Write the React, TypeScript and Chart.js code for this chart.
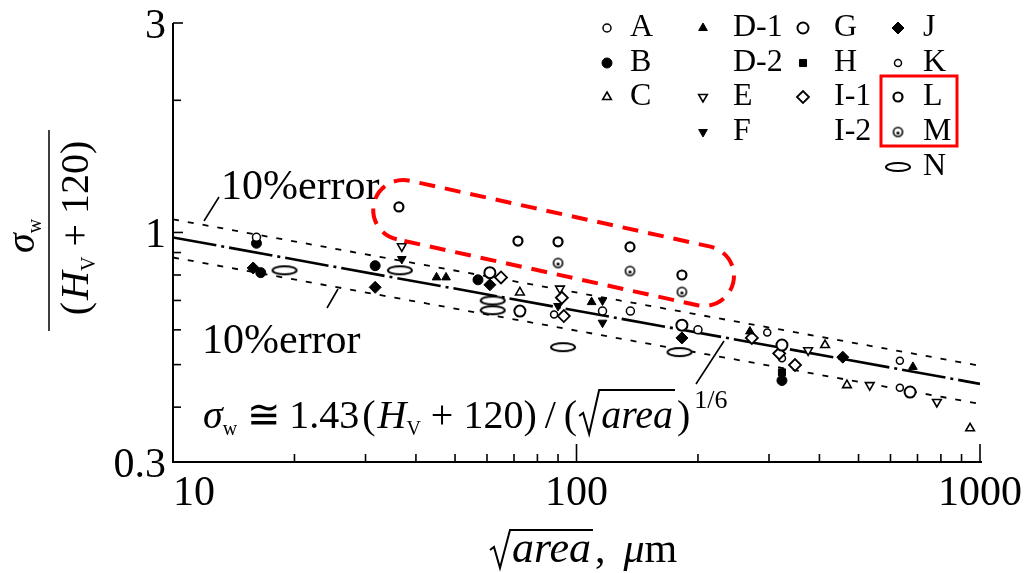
import { useEffect, useRef } from 'react';
import { Chart, registerables } from 'chart.js';
import { drawPoint } from 'chart.js/helpers';

Chart.register(...registerables);

const SERIF = '"Liberation Serif", "DejaVu Serif", serif';

// ---------- axis ticks ----------
const xTickValues = [10, 20, 30, 40, 50, 60, 70, 80, 90, 100, 200, 300, 400, 500, 600, 700, 800, 900, 1000];
const yTickValues = [0.3, 0.4, 0.5, 0.6, 0.7, 0.8, 0.9, 1, 2, 3];
const xTickLabels = [10, 100, 1000];
const yTickLabels = [0.3, 1, 3];

// ---------- fitted line and ±10 % band (end points) ----------
const lineX = [10, 1000];
const fitY = [0.974, 0.452];
const upperY = [1.071, 0.497];
const lowerY = [0.877, 0.407];

// ---------- measured points, sqrt(area) [µm] vs normalised strength ----------
const seriesA = [
  { x: 16.1, y: 0.975 }, { x: 116, y: 0.662 }, { x: 136, y: 0.662 }, { x: 200, y: 0.6 },
];
const seriesB = [
  { x: 16.1, y: 0.945 }, { x: 16.5, y: 0.81 }, { x: 31.7, y: 0.84 }, { x: 57, y: 0.78 }, { x: 323, y: 0.46 },
];
const seriesC = [
  { x: 72.4, y: 0.73 }, { x: 413, y: 0.554 }, { x: 468, y: 0.449 }, { x: 945, y: 0.358 },
];
const seriesD1 = [
  { x: 45, y: 0.79 }, { x: 47.5, y: 0.79 }, { x: 109, y: 0.694 }, { x: 269, y: 0.595 }, { x: 682, y: 0.494 },
];
const seriesE = [
  { x: 36.9, y: 0.93 }, { x: 91, y: 0.745 }, { x: 375, y: 0.539 }, { x: 533, y: 0.449 }, { x: 782, y: 0.411 },
];
const seriesF = [
  { x: 36.9, y: 0.87 }, { x: 90, y: 0.68 }, { x: 116, y: 0.7 }, { x: 116, y: 0.623 },
];
const seriesG = [
  { x: 61, y: 0.81 }, { x: 72.4, y: 0.662 }, { x: 182.5, y: 0.615 }, { x: 323, y: 0.554 }, { x: 671, y: 0.433 },
];
const seriesH = [{ x: 323, y: 0.48 }];
const seriesI1 = [
  { x: 65, y: 0.79 }, { x: 92, y: 0.71 }, { x: 93, y: 0.645 }, { x: 272, y: 0.575 }, { x: 318, y: 0.53 }, { x: 348, y: 0.499 },
];
const seriesJ = [
  { x: 15.8, y: 0.83 }, { x: 31.7, y: 0.75 }, { x: 61, y: 0.76 }, { x: 182.5, y: 0.575 }, { x: 457, y: 0.52 },
];
const seriesK = [
  { x: 88, y: 0.65 }, { x: 297, y: 0.592 }, { x: 323, y: 0.517 }, { x: 633, y: 0.51 }, { x: 633, y: 0.443 },
];
const seriesL = [
  { x: 36.3, y: 1.143 }, { x: 71.6, y: 0.956 }, { x: 90, y: 0.952 }, { x: 135.7, y: 0.927 }, { x: 182.5, y: 0.8 },
];
const seriesM = [
  { x: 90, y: 0.852 }, { x: 135.7, y: 0.817 }, { x: 182.5, y: 0.732 },
];
const seriesN = [
  { x: 18.9, y: 0.82 }, { x: 36.5, y: 0.82 }, { x: 62, y: 0.7 }, { x: 62, y: 0.665 }, { x: 92.6, y: 0.548 }, { x: 180, y: 0.534 },
];

// red highlight: the two cap centres of the dashed outline (data space)
const highlightCaps = [{ x: 37.2, y: 1.125 }, { x: 207, y: 0.796 }];

// ---------- marker images ----------
function makeEllipse(w: number, h: number) {
  const c = document.createElement('canvas');
  c.width = w + 4;
  c.height = h + 4;
  const g = c.getContext('2d')!;
  g.fillStyle = '#fff';
  g.strokeStyle = '#000';
  g.lineWidth = 2;
  g.beginPath();
  g.ellipse((w + 4) / 2, (h + 4) / 2, w / 2, h / 2, 0, 0, Math.PI * 2);
  g.fill();
  g.stroke();
  return c;
}
function makeDotCircle(r: number) {
  const s = r * 2 + 4;
  const c = document.createElement('canvas');
  c.width = s;
  c.height = s;
  const g = c.getContext('2d')!;
  g.fillStyle = '#fff';
  g.strokeStyle = '#000';
  g.lineWidth = 1.6;
  g.beginPath();
  g.arc(s / 2, s / 2, r, 0, Math.PI * 2);
  g.fill();
  g.stroke();
  g.fillStyle = '#000';
  g.beginPath();
  g.arc(s / 2, s / 2 + 1, 1.6, 0, Math.PI * 2);
  g.fill();
  return c;
}

type MS = { style: any; r: number; fill: boolean; rot?: number; bw?: number };

function buildStyles(): Record<string, MS> {
  return {
    A: { style: 'circle', r: 4, fill: false, bw: 1.5 },
    B: { style: 'circle', r: 5, fill: true },
    C: { style: 'triangle', r: 5, fill: false, bw: 1.6 },
    'D-1': { style: 'triangle', r: 5, fill: true },
    E: { style: 'triangle', r: 5, fill: false, rot: 180, bw: 1.6 },
    F: { style: 'triangle', r: 5, fill: true, rot: 180 },
    G: { style: 'circle', r: 5.5, fill: false, bw: 2 },
    H: { style: 'rect', r: 5, fill: true },
    'I-1': { style: 'rectRot', r: 6, fill: false, bw: 1.8 },
    J: { style: 'rectRot', r: 6, fill: true },
    K: { style: 'circle', r: 3.5, fill: false, bw: 1.5 },
    L: { style: 'circle', r: 4.5, fill: false, bw: 2.2 },
    M: { style: makeDotCircle(4.5), r: 5, fill: false },
    N: { style: makeEllipse(24, 8), r: 6, fill: false },
  };
}

const legendCols = [
  ['A', 'B', 'C'],
  ['D-1', 'D-2', 'E', 'F'],
  ['G', 'H', 'I-1', 'I-2'],
  ['J', 'K', 'L', 'M', 'N'],
];

type Piece = { t: string; f: string; dy?: number; gap?: number; radical?: boolean; rh?: number };

function runWidth(ctx: CanvasRenderingContext2D, pieces: Piece[]) {
  let w = 0;
  for (const p of pieces) {
    ctx.font = p.f;
    w += ctx.measureText(p.t).width + (p.gap || 0) + (p.radical ? 24 : 0);
  }
  return w;
}

function drawRun(ctx: CanvasRenderingContext2D, pieces: Piece[], x0: number, base: number, center = false) {
  let x = center ? x0 - runWidth(ctx, pieces) / 2 : x0;
  ctx.textAlign = 'left';
  ctx.textBaseline = 'alphabetic';
  for (const p of pieces) {
    ctx.font = p.f;
    const w = ctx.measureText(p.t).width;
    if (p.radical) {
      const h = p.rh || 34;
      ctx.save();
      ctx.lineWidth = 2;
      ctx.beginPath();
      ctx.moveTo(x, base - 12);
      ctx.lineTo(x + 4, base - 15);
      ctx.lineTo(x + 10, base + 6);
      ctx.lineTo(x + 20, base - h);
      ctx.lineTo(x + 24 + w, base - h);
      ctx.stroke();
      ctx.restore();
      x += 22;
    }
    ctx.fillText(p.t, x, base + (p.dy || 0));
    x += w + (p.gap || 0);
    if (p.radical) x += 2;
  }
}

export default function App() {
  const ref = useRef<HTMLCanvasElement>(null);

  useEffect(() => {
    const canvas = ref.current!;
    const st = buildStyles();
    const seriesMap: Record<string, { x: number; y: number }[]> = {
      A: seriesA, B: seriesB, C: seriesC, 'D-1': seriesD1, E: seriesE, F: seriesF, G: seriesG,
      H: seriesH, 'I-1': seriesI1, J: seriesJ, K: seriesK, L: seriesL, M: seriesM, N: seriesN,
    };

    const pointSets = Object.keys(seriesMap).map((k) => {
      const s = st[k];
      return {
        type: 'scatter' as const,
        label: k,
        data: seriesMap[k],
        pointStyle: s.style,
        pointRadius: s.r,
        pointRotation: s.rot || 0,
        pointBackgroundColor: s.fill ? '#000' : '#fff',
        pointBorderColor: '#000',
        pointBorderWidth: s.bw ?? 1,
        showLine: false,
        order: 0,
      };
    });

    const lineSet = (ys: number[], dash: number[], width: number) => ({
      type: 'scatter' as const,
      label: '',
      data: lineX.map((x, i) => ({ x, y: ys[i] })),
      showLine: true,
      borderColor: '#000',
      borderWidth: width,
      borderDash: dash,
      pointRadius: 0,
      order: 10,
    });

    const decor = {
      id: 'decor',
      beforeDatasetsDraw(chart: any) {
        const { ctx, chartArea, scales } = chart;
        const { left, right, top, bottom } = chartArea;
        const x = scales.x;
        const y = scales.y;
        ctx.save();
        ctx.strokeStyle = '#000';
        ctx.lineWidth = 2;
        ctx.beginPath();
        ctx.moveTo(left, top);
        ctx.lineTo(left, bottom);
        ctx.lineTo(right + 2, bottom);
        ctx.stroke();
        ctx.lineWidth = 1.6;
        for (const v of xTickValues) {
          const px = x.getPixelForValue(v);
          const len = xTickLabels.includes(v) ? 18 : 8;
          ctx.beginPath();
          ctx.moveTo(px, bottom);
          ctx.lineTo(px, bottom - len);
          ctx.stroke();
        }
        for (const v of yTickValues) {
          const py = y.getPixelForValue(v);
          const len = yTickLabels.includes(v) ? 10 : 8;
          ctx.beginPath();
          ctx.moveTo(left, py);
          ctx.lineTo(left + len, py);
          ctx.stroke();
        }
        ctx.restore();
      },
      afterDraw(chart: any) {
        const { ctx, chartArea, scales } = chart;
        const { left, bottom } = chartArea;
        const x = scales.x;
        const y = scales.y;
        ctx.save();
        ctx.fillStyle = '#000';
        ctx.strokeStyle = '#000';

        // tick labels
        ctx.font = `42px ${SERIF}`;
        ctx.textBaseline = 'alphabetic';
        ctx.textAlign = 'right';
        for (const v of yTickLabels) {
          ctx.fillText(String(v), left - 7, y.getPixelForValue(v) + 15);
        }
        for (const v of xTickLabels) {
          const px = x.getPixelForValue(v);
          if (v === xTickLabels[0]) {
            ctx.textAlign = 'left';
            ctx.fillText(String(v), px, bottom + 43);
          } else {
            ctx.textAlign = 'center';
            ctx.fillText(String(v), px, bottom + 43);
          }
        }

        // x title
        drawRun(ctx, [
          { t: 'area', f: `italic 44px ${SERIF}`, radical: true, rh: 32, gap: 2 },
          { t: ',', f: `42px ${SERIF}`, gap: 18 },
          { t: 'μ', f: `italic 42px ${SERIF}` },
          { t: 'm', f: `42px ${SERIF}` },
        ], 490, 562);

        // y title (fraction, rotated)
        ctx.save();
        ctx.translate(0, 230);
        ctx.rotate(-Math.PI / 2);
        drawRun(ctx, [
          { t: 'σ', f: `italic 40px ${SERIF}` },
          { t: 'w', f: `20px ${SERIF}`, dy: 7 },
        ], -6, 34, true);
        drawRun(ctx, [
          { t: '(', f: `40px ${SERIF}`, gap: 2 },
          { t: 'H', f: `italic 40px ${SERIF}` },
          { t: 'V', f: `20px ${SERIF}`, dy: 7, gap: 10 },
          { t: '+', f: `40px ${SERIF}`, gap: 10 },
          { t: '120', f: `40px ${SERIF}` },
          { t: ')', f: `40px ${SERIF}` },
        ], 2, 88, true);
        ctx.restore();
        ctx.lineWidth = 1.5;
        ctx.beginPath();
        ctx.moveTo(49, 130);
        ctx.lineTo(49, 331);
        ctx.stroke();

        // band labels and formula
        ctx.font = `42px ${SERIF}`;
        ctx.textAlign = 'left';
        ctx.fillText('10%error', 221, 199);
        ctx.fillText('10%error', 202, 353);
        drawRun(ctx, [
          { t: 'σ', f: `italic 40px ${SERIF}` },
          { t: 'w', f: `20px ${SERIF}`, dy: 7, gap: 10 },
          { t: '≅', f: `40px ${SERIF}`, gap: 8 },
          { t: '1.43', f: `40px ${SERIF}`, gap: 3 },
          { t: '(', f: `40px ${SERIF}`, gap: 2 },
          { t: 'H', f: `italic 40px ${SERIF}` },
          { t: 'V', f: `20px ${SERIF}`, dy: 7, gap: 10 },
          { t: '+', f: `40px ${SERIF}`, gap: 10 },
          { t: '120', f: `40px ${SERIF}` },
          { t: ')', f: `40px ${SERIF}`, gap: 8 },
          { t: '/', f: `40px ${SERIF}`, gap: 8 },
          { t: '(', f: `40px ${SERIF}`, gap: 2 },
          { t: 'area', f: `italic 40px ${SERIF}`, radical: true, rh: 38, gap: 2 },
          { t: ')', f: `40px ${SERIF}`, gap: 4 },
          { t: '1/6', f: `26px ${SERIF}`, dy: -20 },
        ], 203, 428);

        // leader lines
        ctx.lineWidth = 1.6;
        ctx.beginPath();
        ctx.moveTo(204, 221);
        ctx.lineTo(219, 197);
        ctx.moveTo(327, 308);
        ctx.lineTo(338, 289);
        ctx.moveTo(696, 384);
        ctx.lineTo(724, 341);
        ctx.stroke();

        // legend
        const colMarkerX = [607, 703, 803, 898];
        const colTextX = [630, 733, 834, 923];
        const rowY = [25, 60, 94, 129, 164];
        ctx.textAlign = 'left';
        ctx.textBaseline = 'alphabetic';
        legendCols.forEach((col, ci) => {
          col.forEach((lab, ri) => {
            const cy = rowY[ri];
            ctx.fillStyle = '#000';
            ctx.font = `32px ${SERIF}`;
            ctx.fillText(lab, colTextX[ci], cy + 11);
            const s = st[lab];
            if (s) {
              ctx.save();
              ctx.fillStyle = s.fill ? '#000' : '#fff';
              ctx.strokeStyle = '#000';
              ctx.lineWidth = s.bw ?? 1;
              drawPoint(ctx, { pointStyle: s.style, radius: s.r, rotation: s.rot || 0, borderWidth: s.bw ?? 1 } as any, colMarkerX[ci], cy + 3);
              ctx.restore();
            }
          });
        });

        // red highlight marks
        ctx.strokeStyle = '#ff0000';
        ctx.lineWidth = 3;
        ctx.setLineDash([]);
        ctx.strokeRect(881, 76, 76, 70);

        const p1 = { x: x.getPixelForValue(highlightCaps[0].x), y: y.getPixelForValue(highlightCaps[0].y) };
        const p2 = { x: x.getPixelForValue(highlightCaps[1].x), y: y.getPixelForValue(highlightCaps[1].y) };
        const ang = Math.atan2(p2.y - p1.y, p2.x - p1.x);
        const r = 30;
        ctx.lineWidth = 4;
        ctx.setLineDash([16, 10]);
        ctx.beginPath();
        ctx.arc(p1.x, p1.y, r, ang + Math.PI / 2, ang + (3 * Math.PI) / 2);
        ctx.arc(p2.x, p2.y, r, ang - Math.PI / 2, ang + Math.PI / 2);
        ctx.closePath();
        ctx.stroke();
        ctx.restore();
      },
    };

    const chart = new Chart(canvas, {
      type: 'scatter',
      data: {
        datasets: [
          ...pointSets,
          lineSet(fitY, [44, 5, 3, 5], 2.6),
          lineSet(upperY, [6, 9], 1.8),
          lineSet(lowerY, [6, 9], 1.8),
        ] as any,
      },
      options: {
        responsive: false,
        animation: false,
        devicePixelRatio: 1,
        layout: { padding: { left: 173, top: 23, right: 45, bottom: 111 } },
        plugins: { legend: { display: false }, tooltip: { enabled: false } },
        scales: {
          x: {
            type: 'logarithmic',
            min: 10,
            max: 1000,
            grid: { display: false, drawTicks: false },
            border: { display: false },
            ticks: { display: false, autoSkip: false },
          },
          y: {
            type: 'logarithmic',
            min: 0.3,
            max: 3,
            grid: { display: false, drawTicks: false },
            border: { display: false },
            ticks: { display: false, autoSkip: false },
          },
        },
      } as any,
      plugins: [decor],
    });
    return () => chart.destroy();
  }, []);

  return (
    <div style={{ position: 'fixed', left: 0, top: 0, width: 1025, height: 573, background: '#fff' }}>
      <canvas ref={ref} width={1025} height={573} style={{ display: 'block' }} />
    </div>
  );
}
